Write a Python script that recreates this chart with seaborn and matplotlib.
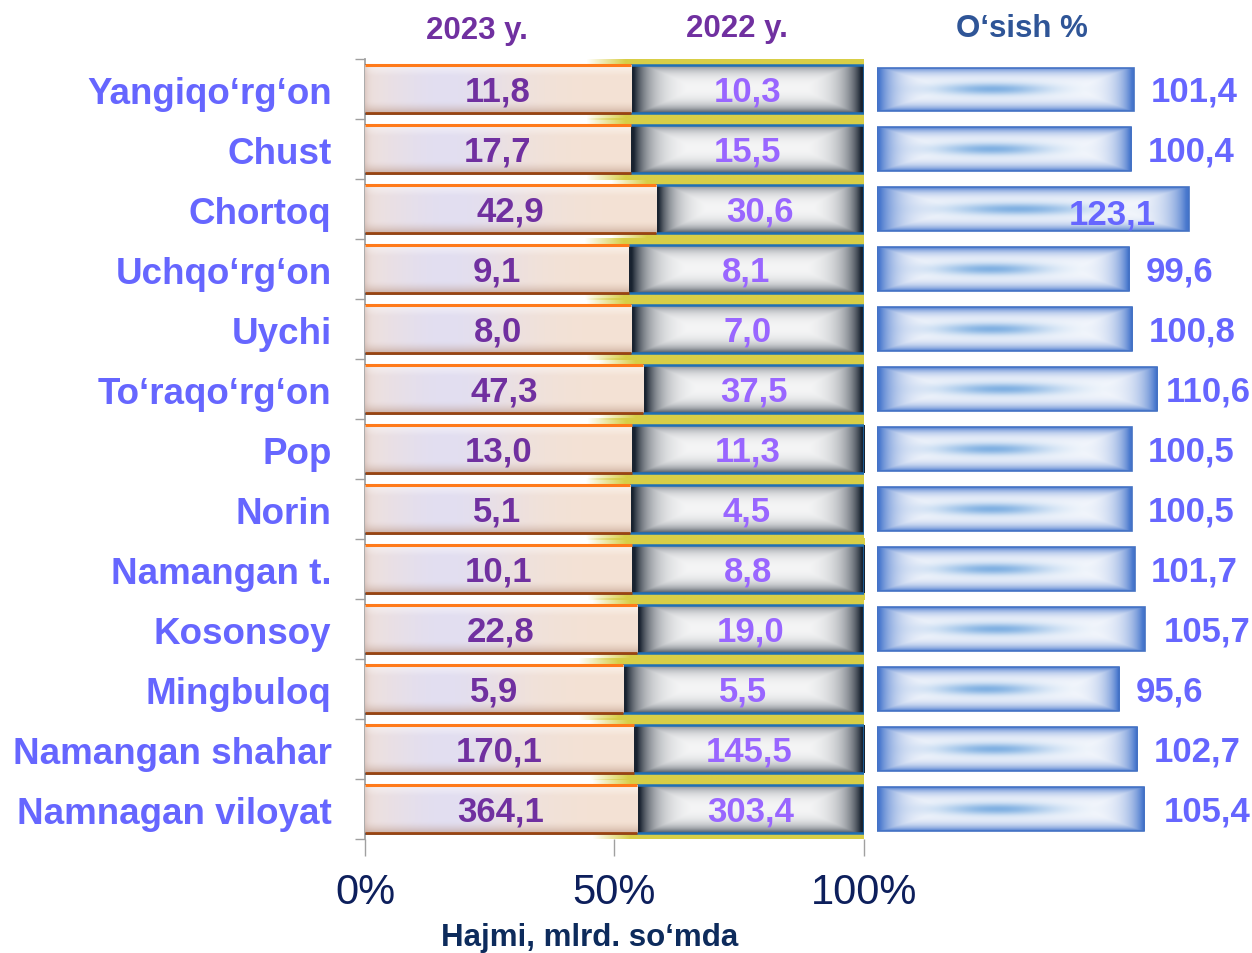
import numpy as np
import pandas as pd
import matplotlib
matplotlib.use("Agg")
import matplotlib.pyplot as plt
import seaborn as sns

regions = ["Yangiqo‘rg‘on", "Chust", "Chortoq", "Uchqo‘rg‘on", "Uychi", "To‘raqo‘rg‘on",
           "Pop", "Norin", "Namangan t.", "Kosonsoy", "Mingbuloq", "Namangan shahar",
           "Namnagan viloyat"]
vol_2023 = [11.8, 17.7, 42.9, 9.1, 8.0, 47.3, 13.0, 5.1, 10.1, 22.8, 5.9, 170.1, 364.1]
vol_2022 = [10.3, 15.5, 30.6, 8.1, 7.0, 37.5, 11.3, 4.5, 8.8, 19.0, 5.5, 145.5, 303.4]
growth = [101.4, 100.4, 123.1, 99.6, 100.8, 110.6, 100.5, 100.5, 101.7, 105.7, 95.6, 102.7, 105.4]

df = pd.DataFrame({"region": regions, "v23": vol_2023, "v22": vol_2022, "growth": growth})
df["share23"] = df["v23"] / (df["v23"] + df["v22"]) * 100
df["full"] = 100.0

sns.set_theme(style="white")
plt.rcParams["font.family"] = ["Liberation Sans", "DejaVu Sans"]

fig = plt.figure(figsize=(12.52, 9.54), dpi=100)
ax = fig.add_axes([0.2915, 0.1195, 0.3985, 0.8175])
ax2 = fig.add_axes([0.7005, 0.1195, 0.2995, 0.8175])

WHITE = np.array([1.0, 1.0, 1.0])


def grid(nx=240, ny=60):
    u = np.linspace(0, 1, nx)[None, :]
    v = np.linspace(0, 1, ny)[:, None]
    return u, v


def img_2023():
    u, v = grid()
    peach = np.array([244, 226, 212]) / 255
    lav = np.array([224, 222, 244]) / 255
    l = np.exp(-((u - 0.3) / 0.28) ** 2) * 0.9
    img = peach * (1 - l[..., None]) + lav * l[..., None]
    img = np.broadcast_to(img, (v.shape[0], u.shape[1], 3)).copy()
    sb = (np.clip((v - 0.75) / 0.25, 0, 1) ** 1.6 * 0.5)[..., None]
    img = img * (1 - sb) + np.array([175, 135, 115]) / 255 * sb
    st = (np.clip((0.22 - v) / 0.22, 0, 1) * 0.55)[..., None]
    img = img * (1 - st) + WHITE * st
    sl = (np.exp(-u / 0.012) * 0.35)[..., None] * np.ones((v.shape[0], 1, 1))
    img = img * (1 - sl) + np.array([190, 160, 150]) / 255 * sl
    return np.clip(img, 0, 1)


def img_2022():
    u, v = grid()
    dark = np.array([25, 35, 48]) / 255
    hx = 1.15 * np.exp(-u / 0.075) + 1.15 * np.exp(-(1 - u) / 0.075)
    vy = 0.55 * np.exp(-v / 0.15) + 0.75 * np.exp(-(1 - v) / 0.15)
    s = np.clip(np.maximum(hx, vy), 0, 1)[..., None]
    return WHITE * (1 - s) + dark * s


def img_growth():
    u, v = grid()
    blue = np.array([70, 118, 205]) / 255
    light = np.array([100, 160, 220]) / 255
    hx = 1.1 * np.exp(-u / 0.07) + 1.1 * np.exp(-(1 - u) / 0.06)
    vy = 0.95 * np.exp(-v / 0.13) + 0.95 * np.exp(-(1 - v) / 0.13)
    s = np.clip(np.maximum(hx, vy), 0, 1)[..., None]
    c = (np.exp(-((v - 0.5) / 0.14) ** 2) * np.exp(-((u - 0.45) / 0.22) ** 2) * 0.8)[..., None]
    img = WHITE * (1 - c) + light * c
    return img * (1 - s) + blue * s


def img_glow():
    u, v = grid()
    a = np.clip(u / 0.14, 0, 1) * np.ones_like(v)
    rgba = np.zeros(a.shape + (4,))
    rgba[..., :3] = np.array([216, 206, 70]) / 255
    rgba[..., 3] = a
    return rgba


# 100% stacked bars: 2022 as the full bar, 2023 share on top of it
sns.barplot(data=df, x="full", y="region", orient="h", ax=ax, width=0.8,
            color="white", edgecolor="#1f6fb5", linewidth=1.8, zorder=3)
n22 = len(ax.patches)
sns.barplot(data=df, x="share23", y="region", orient="h", ax=ax, width=0.8,
            color="white", linewidth=0, zorder=4)
p22 = ax.patches[:n22]
p23 = ax.patches[n22:]

g22 = img_2022()
g23 = img_2023()
glow = img_glow()
for i, (a, b) in enumerate(zip(p22, p23)):
    a.set_facecolor("none")
    b.set_facecolor("none")
    share = df["share23"].iloc[i]
    y0 = a.get_y()
    h = a.get_height()
    yc = y0 + h / 2
    ax.imshow(glow, extent=[share - 9, 100.4, yc + 0.52, yc - 0.5], aspect="auto",
              interpolation="bilinear", zorder=1)
    im = ax.imshow(g22, extent=[share, 100, y0 + h, y0], aspect="auto",
                   interpolation="bilinear", zorder=2.5)
    im.set_clip_path(a)
    im = ax.imshow(g23, extent=[0, share, y0 + h, y0], aspect="auto",
                   interpolation="bilinear", zorder=3.5)
    im.set_clip_path(b)
    ax.plot([0, share], [y0, y0], color="#ff7a1a", lw=2.2, zorder=5,
            solid_capstyle="butt")
    ax.plot([0, share], [y0 + h, y0 + h], color="#9a4410", lw=2, zorder=5,
            solid_capstyle="butt")
    ax.text(share / 2, yc + 0.04, f"{vol_2023[i]:.1f}".replace(".", ","), ha="center",
            va="center", fontsize=25, fontweight="bold", color="#7030a0", zorder=6)
    ax.text((share + 100) / 2, yc + 0.04, f"{vol_2022[i]:.1f}".replace(".", ","),
            ha="center", va="center", fontsize=25, fontweight="bold", color="#9966ff",
            zorder=6)

ax.set_xlim(0, 100)
ax.set_ylim(12.5, -0.5)
ax.set_xticks([0, 50, 100])
ax.set_xticklabels(["0%", "50%", "100%"])
ax.tick_params(axis="x", length=12, width=1, color="#a0a0a0", pad=12,
               labelsize=30, labelcolor="#0d1f5c", bottom=True)
ax.set_yticks(range(len(regions)))
ax.set_yticklabels(regions)
ax.set_yticks(np.arange(-0.5, len(regions), 1), minor=True)
ax.tick_params(axis="y", which="major", length=0, pad=24, labelsize=26.5,
               labelcolor="#6666ff")
for t in ax.get_yticklabels():
    t.set_fontweight("bold")
ax.tick_params(axis="y", which="minor", length=7, width=1, color="#a0a0a0", left=True)
ax.set_xlabel("")
ax.set_ylabel("")
for side in ["top", "right", "bottom"]:
    ax.spines[side].set_visible(False)
ax.spines["left"].set_color("#a0a0a0")
ax.set_facecolor("none")

# growth panel
sns.barplot(data=df, x="growth", y="region", orient="h", ax=ax2, width=0.72,
            color="white", edgecolor="#4472c4", linewidth=1.2, zorder=3)
gg = img_growth()
for i, p in enumerate(ax2.patches):
    p.set_facecolor("none")
    y0 = p.get_y()
    h = p.get_height()
    v = p.get_width()
    im = ax2.imshow(gg, extent=[0, v, y0 + h, y0], aspect="auto",
                    interpolation="bilinear", zorder=2)
    im.set_clip_path(p)
    lbl = f"{growth[i]:.1f}".replace(".", ",")
    yc = y0 + h / 2 + 0.04
    if v > 115:
        ax2.text(v - 13, yc + 0.05, lbl, ha="right", va="center",
                 fontsize=25, fontweight="bold", color="#6666ff", zorder=6)
    elif v + 6.5 + 36 > 147.5:
        ax2.text(147.6, yc, lbl, ha="right", va="center",
                 fontsize=25, fontweight="bold", color="#6666ff", zorder=6)
    else:
        ax2.text(v + 6.5, yc, lbl, ha="left", va="center",
                 fontsize=25, fontweight="bold", color="#6666ff", zorder=6)
ax2.set_xlim(0, 148)
ax2.set_ylim(12.5, -0.5)
ax2.axis("off")

fig.text(0.381, 0.968, "2023 y.", ha="center", va="center", fontsize=22.5,
         fontweight="bold", color="#7030a0")
fig.text(0.589, 0.970, "2022 y.", ha="center", va="center", fontsize=22.5,
         fontweight="bold", color="#7030a0")
fig.text(0.816, 0.970, "O‘sish %", ha="center", va="center", fontsize=22.5,
         fontweight="bold", color="#2f5597")
fig.text(0.471, 0.017, "Hajmi, mlrd. so‘mda", ha="center", va="center", fontsize=22.5,
         fontweight="bold", color="#0d2b5c")

fig.savefig("out.png", dpi=100, facecolor="white")
